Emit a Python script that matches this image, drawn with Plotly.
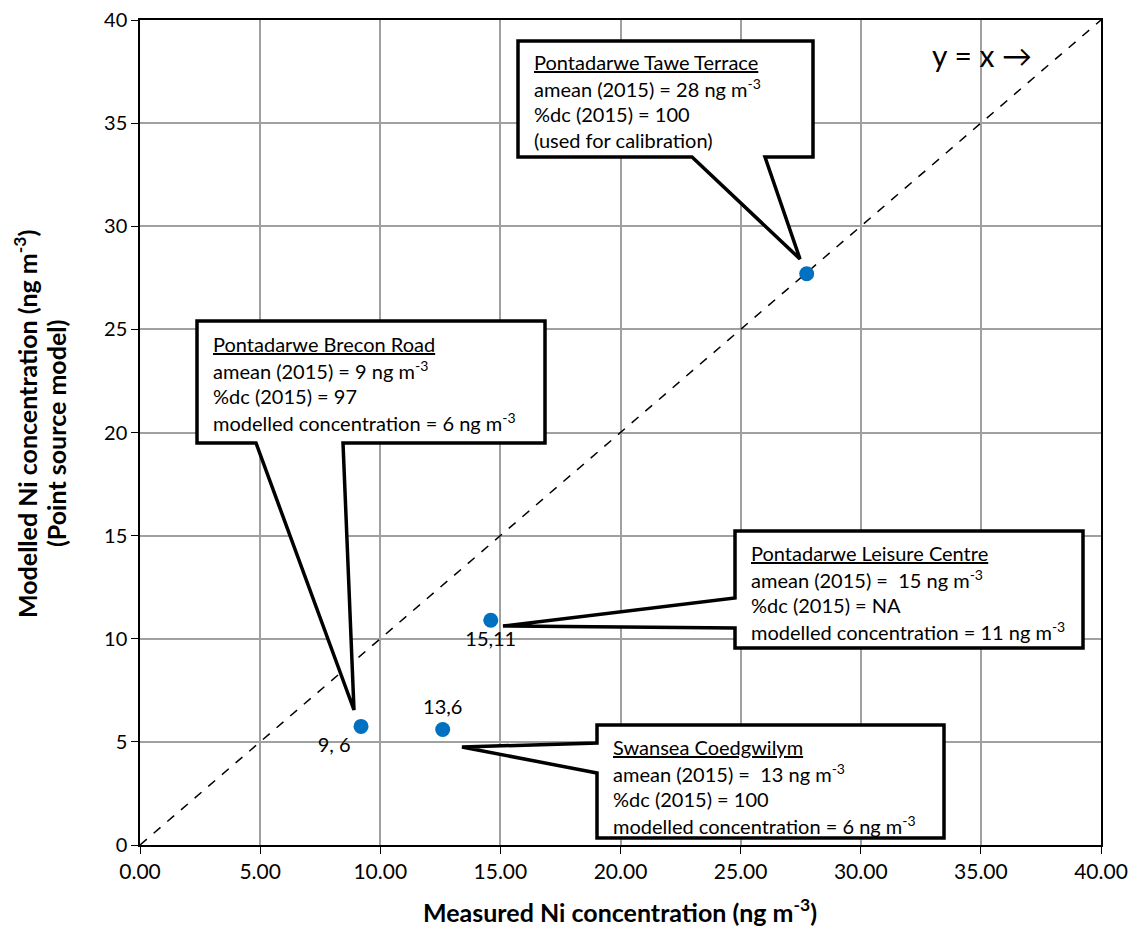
import plotly.graph_objects as go

# ---- data ----
measured = [9.2, 12.6, 14.6, 27.75]
modelled = [5.75, 5.6, 10.9, 27.7]
point_labels = ["9, 6", "13,6", "15,11", ""]
label_pos = ["bottom left", "top center", "bottom center", "top center"]
x_ticks = [0, 5, 10, 15, 20, 25, 30, 35, 40]
y_ticks = [0, 5, 10, 15, 20, 25, 30, 35, 40]

FONT = "Lato, Open Sans, sans-serif"
W, H = 1137, 930
OFF = 8  # page body margin
L, R, T, B = 140, 1101, 20, 845  # plot area in screen pixels


def X(px):
    return (px - L) / (R - L) * 40


def Y(py):
    return (B - py) / (B - T) * 40


def PX(px):
    return (px - L) / (R - L)


def PY(py):
    return (B - py) / (B - T)


fig = go.Figure()

# y = x reference line
fig.add_trace(go.Scatter(x=[0, 40], y=[0, 40], mode="lines",
                         line=dict(color="black", width=1.5, dash="dash"),
                         hoverinfo="skip", showlegend=False))

fig.add_trace(go.Scatter(x=measured, y=modelled, mode="markers+text",
                         text=point_labels, textposition=label_pos,
                         textfont=dict(family=FONT, size=20, color="black"),
                         marker=dict(color="#0070C0", size=15),
                         showlegend=False))

callouts = [
    dict(path=[(518, 41), (813, 41), (813, 157), (765, 157), (800, 259), (692, 157), (518, 157)],
         x=532, y0=62,
         lines=["<u>Pontadarwe Tawe Terrace</u>",
                "amean (2015) = 28 ng m<sup>-3</sup>",
                "%dc (2015) = 100",
                "(used for calibration)"]),
    dict(path=[(197, 321), (545, 321), (545, 443), (343, 443), (354, 710), (256, 443), (197, 443)],
         x=211, y0=344,
         lines=["<u>Pontadarwe Brecon Road</u>",
                "amean (2015) = 9 ng m<sup>-3</sup>",
                "%dc (2015) = 97",
                "modelled concentration = 6 ng m<sup>-3</sup>"]),
    dict(path=[(735, 531), (1083, 531), (1083, 648), (735, 648), (735, 628), (503, 626), (735, 598)],
         x=749, y0=553,
         lines=["<u>Pontadarwe Leisure Centre</u>",
                "amean (2015) =  15 ng m<sup>-3</sup>",
                "%dc (2015) = NA",
                "modelled concentration = 11 ng m<sup>-3</sup>"]),
    dict(path=[(597, 725), (944, 725), (944, 838), (597, 838), (597, 773), (462, 747), (597, 743)],
         x=611, y0=747,
         lines=["<u>Swansea Coedgwilym</u>",
                "amean (2015) =  13 ng m<sup>-3</sup>",
                "%dc (2015) = 100",
                "modelled concentration = 6 ng m<sup>-3</sup>"]),
]

shapes = []
annotations = []
for c in callouts:
    pts = c["path"]
    d = "M " + " L ".join(f"{X(px):.4f},{Y(py):.4f}" for px, py in pts) + " Z"
    shapes.append(dict(type="path", path=d, xref="x", yref="y",
                       line=dict(color="black", width=3.5), fillcolor="white",
                       layer="above"))
    for i, t in enumerate(c["lines"]):
        annotations.append(dict(x=X(c["x"]), y=Y(c["y0"] + i * 26.0), xref="x", yref="y",
                                text=t, showarrow=False, xanchor="left", yanchor="middle",
                                align="left", font=dict(family=FONT, size=20, color="black")))

annotations.append(dict(x=X(930), y=Y(55), xref="x", yref="y", text="y = x \u2192",
                        showarrow=False, xanchor="left", yanchor="middle",
                        font=dict(family=FONT, size=30, color="black")))

# axis titles
annotations.append(dict(x=PX(620), y=PY(910), xref="paper", yref="paper",
                        text="<b>Measured Ni concentration (ng m<sup>-3</sup>)</b>",
                        showarrow=False, xanchor="center", yanchor="middle",
                        font=dict(family=FONT, size=25, color="black")))
annotations.append(dict(x=PX(25), y=PY(424), xref="paper", yref="paper",
                        text="<b>Modelled Ni concentration (ng m<sup>-3</sup>)</b>",
                        textangle=-90, showarrow=False, xanchor="center", yanchor="middle",
                        font=dict(family=FONT, size=25, color="black")))
annotations.append(dict(x=PX(56), y=PY(434), xref="paper", yref="paper",
                        text="<b>(Point source model)</b>",
                        textangle=-90, showarrow=False, xanchor="center", yanchor="middle",
                        font=dict(family=FONT, size=25, color="black")))

fig.update_layout(
    width=W, height=H,
    margin=dict(l=L - OFF, r=W - R + OFF, t=T - OFF, b=H - B + OFF),
    paper_bgcolor="white", plot_bgcolor="white",
    shapes=shapes, annotations=annotations,
    font=dict(family=FONT, size=20, color="black"),
    xaxis=dict(range=[0, 40], tickvals=x_ticks, tickformat=".2f", automargin=False,
               ticklabeloverflow="allow",
               showgrid=True, gridcolor="#A0A0A0", gridwidth=1.5,
               showline=True, linecolor="black", linewidth=1.5, mirror=True,
               ticks="outside", ticklen=7, tickcolor="black", zeroline=False,
               tickfont=dict(family=FONT, size=21)),
    yaxis=dict(range=[0, 40], tickvals=y_ticks, automargin=False,
               ticklabeloverflow="allow",
               showgrid=True, gridcolor="#A0A0A0", gridwidth=1.5,
               showline=True, linecolor="black", linewidth=1.5, mirror=True,
               ticks="outside", ticklen=7, tickcolor="black", zeroline=False,
               tickfont=dict(family=FONT, size=20)),
)

fig.write_html("out.html")
